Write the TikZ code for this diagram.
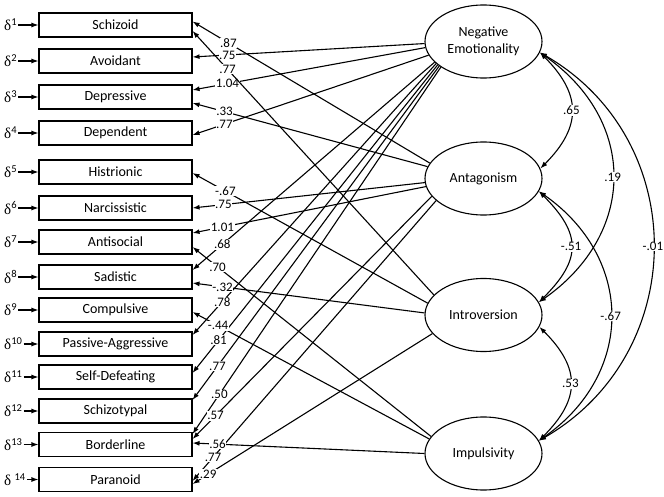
\documentclass[tikz,border=0pt]{standalone}
\usepackage{fontspec}
\setmainfont{Carlito}
\newfontfamily\grkfont{Liberation Serif}
\usetikzlibrary{arrows.meta,shapes.geometric}

\tikzset{
  box/.style={draw, line width=1.1pt, minimum width=153pt, minimum height=24pt, inner sep=0pt, font=\fontsize{14}{15}\selectfont},
  factor/.style={draw, ellipse, line width=1.1pt, minimum width=117pt, minimum height=73pt, inner sep=0pt, align=center, font=\fontsize{14}{17}\selectfont},
  err/.style={anchor=west, inner sep=1pt, font=\fontsize{15}{16}\selectfont},
  coef/.style={fill=white, inner sep=0.6pt, font=\fontsize{13}{13}\selectfont},
}

\begin{document}
\begin{tikzpicture}[x=1pt, y=1pt, >={Latex[length=7pt,width=5pt]}]
    \useasboundingbox (0,0) rectangle (664,-497);

    \begin{scope}[every node/.style={box}]
        \node (szd) at (115.5,-25) {Schizoid};
        \node (avd) at (115.5,-61) {Avoidant};
        \node (dpr) at (115.5,-97) {Depressive};
        \node (dpd) at (115.5,-133) {Dependent};
        \node (hst) at (115.5,-172) {Histrionic};
        \node (ncs) at (115.5,-208) {Narcissistic};
        \node (asp) at (115.5,-242) {Antisocial};
        \node (sad) at (115.5,-277) {Sadistic};
        \node (cmp) at (115.5,-310) {Compulsive};
        \node (pag) at (115.5,-344) {Passive-Aggressive};
        \node (sdf) at (115.5,-377) {Self-Defeating};
        \node (stp) at (115.5,-411) {Schizotypal};
        \node (bdl) at (115.5,-444.5) {Borderline};
        \node (prn) at (115.5,-479.5) {Paranoid};
    \end{scope}

    \begin{scope}[every node/.style={factor}]
        \node (ne) at (483.5,-41.5) {Negative\\Emotionality};
        \node (ag) at (483.5,-178.5) {Antagonism};
        \node (io) at (483.5,-315) {Introversion};
        \node (im) at (483.5,-453.5) {Impulsivity};
    \end{scope}

    % error terms
    \begin{scope}[every node/.style={err}]
        \node (d1) at (szd -| 3,0) {{\grkfont δ}\textsuperscript{1}};
        \node (d2) at (avd -| 3,0) {{\grkfont δ}\textsuperscript{2}};
        \node (d3) at (dpr -| 3,0) {{\grkfont δ}\textsuperscript{3}};
        \node (d4) at (dpd -| 3,0) {{\grkfont δ}\textsuperscript{4}};
        \node (d5) at (hst -| 3,0) {{\grkfont δ}\textsuperscript{5}};
        \node (d6) at (ncs -| 3,0) {{\grkfont δ}\textsuperscript{6}};
        \node (d7) at (asp -| 3,0) {{\grkfont δ}\textsuperscript{7}};
        \node (d8) at (sad -| 3,0) {{\grkfont δ}\textsuperscript{8}};
        \node (d9) at (cmp -| 3,0) {{\grkfont δ}\textsuperscript{9}};
        \node (d10) at (pag -| 3,0) {{\grkfont δ}\textsuperscript{10}};
        \node (d11) at (sdf -| 3,0) {{\grkfont δ}\textsuperscript{11}};
        \node (d12) at (stp -| 3,0) {{\grkfont δ}\textsuperscript{12}};
        \node (d13) at (bdl -| 3,0) {{\grkfont δ}\textsuperscript{13}};
        \node (d14) at (prn -| 3,0) {{\grkfont δ}\ \textsuperscript{14}};
    \end{scope}

    \begin{scope}[every edge/.style={draw, line width=1.1pt}]
        \path [->] (d1) edge (szd);
        \path [->] (d2) edge (avd);
        \path [->] (d3) edge (dpr);
        \path [->] (d4) edge (dpd);
        \path [->] (d5) edge (hst);
        \path [->] (d6) edge (ncs);
        \path [->] (d7) edge (asp);
        \path [->] (d8) edge (sad);
        \path [->] (d9) edge (cmp);
        \path [->] (d10) edge (pag);
        \path [->] (d11) edge (sdf);
        \path [->] (d12) edge (stp);
        \path [->] (d13) edge (bdl);
        \path [->] (d14) edge (prn);
    \end{scope}

    % loadings
    \begin{scope}[every node/.style={coef}, every edge/.style={draw, line width=1.1pt}]
        \path [->] (ne.182) edge node[pos=.85] {.75} ([yshift=4pt]avd.east);
        \path [->] (ne.186) edge node[pos=.85] {1.04} ([yshift=7pt]dpr.east);
        \path [->] (ne.194) edge node[pos=.865] {.77} ([yshift=-2pt]dpd.east);
        \path [->] (ne.203) edge node[pos=.877] {.68} ([yshift=7pt]sad.east);
        \path [->] (ne.205) edge node[pos=.878] {.78} ([yshift=9pt]pag.east);
        \path [->] (ne.207) edge node[pos=.894] {.81} ([yshift=4pt]sdf.east);
        \path [->] (ne.209) edge node[pos=.899] {.77} ([yshift=11pt]stp.east);
        \path [->] (ne.211) edge node[pos=.892] {.50} ([yshift=10.5pt]bdl.east);

        \path [->] (ag.164) edge node[pos=.849] {.87} ([yshift=3.5pt]szd.east);
        \path [->] (ag.168) edge node[pos=.864] {.33} ([yshift=-6pt]dpr.east);
        \path [->] (ag.184) edge node[pos=.867] {.75} (ncs.east);
        \path [->] (ag.188) edge node[pos=.872] {1.01} ([yshift=9pt]asp.east);
        \path [->] (ag.199) edge node[pos=.904] {.57} ([yshift=5.5pt]bdl.east);
        \path [->] (ag.205) edge node[pos=.916] {.77} ([yshift=-1.5pt]prn.east);

        \path [->] (io.158) edge node[pos=.855] {.77} ([yshift=-6pt]szd.east);
        \path [->] (io.168) edge node[pos=.86] {-.67} ([yshift=-1pt]hst.east);
        \path [->] (io.178) edge node[pos=.871] {-.32} ([yshift=-6pt]sad.east);
        \path [->] (io.200) edge node[pos=.935] {.29} ([yshift=-4.5pt]prn.east);

        \path [->] (im.162) edge node[pos=.895] {.70} ([yshift=-5pt]asp.east);
        \path [->] (im.165) edge node[pos=.892] {-.44} ([yshift=-2pt]cmp.east);
        \path [->] (im.180) edge node[pos=.892] {.56} ([yshift=1.5pt]bdl.east);
    \end{scope}

    % factor correlations
    \begin{scope}[every node/.style={coef}, every edge/.style={draw, line width=1.1pt}]
        \path [<->] (ne.-11) edge[out=-45, in=45, looseness=1.3] node {.65} (ag.10);
        \path [<->] (ne.-11) edge[out=-35, in=35, looseness=1.22] node {.19} (io.13);
        \path [<->] (ne.-11) edge[out=-30, in=30, looseness=1.15] node {-.01} (im.13);
        \path [<->] (ag.-13) edge[out=-45, in=45, looseness=1.4] node {-.51} (io.13);
        \path [<->] (ag.-13) edge[out=-35, in=35, looseness=1.2] node {-.67} (im.13);
        \path [<->] (io.-12) edge[out=-45, in=45, looseness=1.32] node {.53} (im.13);
    \end{scope}
\end{tikzpicture}
\end{document}
